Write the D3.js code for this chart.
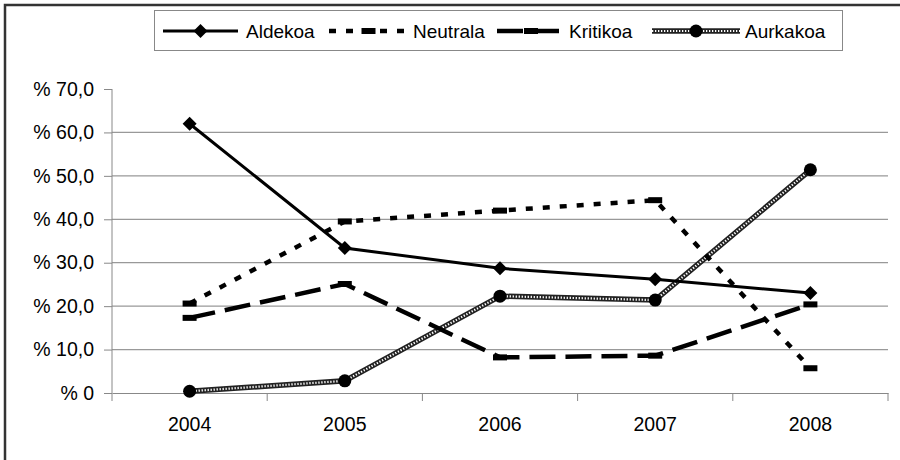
<!DOCTYPE html>
<html>
<head>
<meta charset="utf-8">
<script src="https://cdn.jsdelivr.net/npm/d3@7"></script>
<style>
  body { margin: 0; background: #fff; }
  text { font-family: "Liberation Sans", Arial, sans-serif; fill: #000; }
</style>
</head>
<body>
<div id="chart"></div>
<script>
// data
var years = ["2004", "2005", "2006", "2007", "2008"];
var aldekoa = [62.0, 33.4, 28.7, 26.2, 23.0];
var neutrala = [20.6, 39.5, 42.0, 44.4, 5.7];
var kritikoa = [17.3, 25.1, 8.2, 8.6, 20.4];
var aurkakoa = [0.4, 2.8, 22.3, 21.4, 51.4];
var yTicks = [0, 10, 20, 30, 40, 50, 60, 70];

var svgWidth = 900;
var svgHeight = 460;

var margin = { top: 89, right: 12, bottom: 67, left: 112 };
var width = svgWidth - margin.left - margin.right;
var height = svgHeight - margin.top - margin.bottom;

var svg = d3.select("#chart")
  .append("svg")
  .attr("width", svgWidth)
  .attr("height", svgHeight);

// outer frame, only its left and top edges are in view
svg.append("path")
  .attr("d", `M5,${svgHeight + 5}V5H${svgWidth + 5}`)
  .attr("fill", "none")
  .attr("stroke", "#333")
  .attr("stroke-width", 2.5);

var chartGroup = svg.append("g")
  .attr("transform", `translate(${margin.left}, ${margin.top})`);

var xScale = d3.scaleBand().domain(years).range([0, width]);
var yScale = d3.scaleLinear().domain([0, 70]).range([height, 0]);

// gridlines
chartGroup.append("g")
  .selectAll("line")
  .data(yTicks.filter(d => d > 0 && d < 70))
  .enter()
  .append("line")
  .attr("x1", 0).attr("x2", width)
  .attr("y1", d => yScale(d)).attr("y2", d => yScale(d))
  .attr("stroke", "#999")
  .attr("stroke-width", 1.2);

// y axis
var leftAxis = d3.axisLeft(yScale)
  .tickValues(yTicks)
  .tickSize(8)
  .tickPadding(10)
  .tickFormat(d => d === 0 ? "% 0" : "% " + d.toFixed(1).replace(".", ","));

var yAxis = chartGroup.append("g").call(leftAxis);
yAxis.select(".domain").attr("stroke", "#888").attr("d", `M0,${height}V0H0`);
yAxis.selectAll(".tick line").attr("stroke", "#888");
yAxis.selectAll("text").style("font-size", "19.5px").attr("fill", "#000");

// x axis, ticks sit between the categories
var xAxis = chartGroup.append("g")
  .attr("transform", `translate(0, ${height})`)
  .call(d3.axisBottom(xScale).tickSize(0).tickPadding(24));
xAxis.select(".domain").attr("stroke", "#888");
xAxis.selectAll("text").style("font-size", "19.5px").attr("fill", "#000");

chartGroup.append("g")
  .selectAll("line")
  .data(d3.range(years.length + 1))
  .enter()
  .append("line")
  .attr("x1", i => i * xScale.step()).attr("x2", i => i * xScale.step())
  .attr("y1", height).attr("y2", height + 8)
  .attr("stroke", "#888");

var line = d3.line()
  .x((d, i) => xScale(years[i]) + xScale.bandwidth() / 2)
  .y(d => yScale(d));

var xOf = i => xScale(years[i]) + xScale.bandwidth() / 2;

// series styles
var series = [
  { name: "Aldekoa", values: aldekoa, dash: null, width: 3, marker: "diamond" },
  { name: "Neutrala", values: neutrala, dash: "7,10", width: 4.5, marker: "dash" },
  { name: "Kritikoa", values: kritikoa, dash: "26,10", width: 4.5, marker: "dash" },
  { name: "Aurkakoa", values: aurkakoa, dash: null, width: 5, marker: "circle", hatched: true }
];

function drawLine(g, s, path) {
  if (s.hatched) {
    g.append("path").attr("d", path).attr("fill", "none")
      .attr("stroke", "#222").attr("stroke-width", 5.5);
    g.append("path").attr("d", path).attr("fill", "none")
      .attr("stroke", "#fff").attr("stroke-width", 2.2)
      .attr("stroke-dasharray", "1.3,1.7");
  } else {
    g.append("path").attr("d", path).attr("fill", "none")
      .attr("stroke", "#000").attr("stroke-width", s.width)
      .attr("stroke-dasharray", s.dash);
  }
}

function drawMarker(g, s, x, y) {
  if (s.marker === "diamond") {
    g.append("path")
      .attr("d", `M${x},${y - 7}L${x + 7},${y}L${x},${y + 7}L${x - 7},${y}Z`)
      .attr("fill", "#000");
  } else if (s.marker === "dash") {
    g.append("rect")
      .attr("x", x - 7).attr("y", y - 3)
      .attr("width", 14).attr("height", 6)
      .attr("fill", "#000");
  } else {
    g.append("circle").attr("cx", x).attr("cy", y).attr("r", 6.5).attr("fill", "#000");
  }
}

// draw order: Aurkakoa under the others
[series[3], series[0], series[1], series[2]].forEach(function(s) {
  var g = chartGroup.append("g");
  drawLine(g, s, line(s.values));
  s.values.forEach(function(v, i) {
    drawMarker(g, s, xOf(i), yScale(v));
  });
});

// legend
var legend = svg.append("g");
legend.append("rect")
  .attr("x", 154.5).attr("y", 10.5)
  .attr("width", 688).attr("height", 40)
  .attr("fill", "#fff")
  .attr("stroke", "#888");

var legendPos = [
  { x1: 163, x2: 238, tx: 246 },
  { x1: 329, x2: 408, tx: 413 },
  { x1: 497, x2: 565, tx: 569 },
  { x1: 652, x2: 740, tx: 745 }
];

series.forEach(function(s, i) {
  var p = legendPos[i];
  var g = legend.append("g");
  var ly = 31;
  drawLine(g, s, `M${p.x1},${ly}H${p.x2}`);
  drawMarker(g, s, (p.x1 + p.x2) / 2, ly);
  g.append("text")
    .attr("x", p.tx).attr("y", ly + 7)
    .style("font-size", "19px")
    .text(s.name);
});
</script>
</body>
</html>
